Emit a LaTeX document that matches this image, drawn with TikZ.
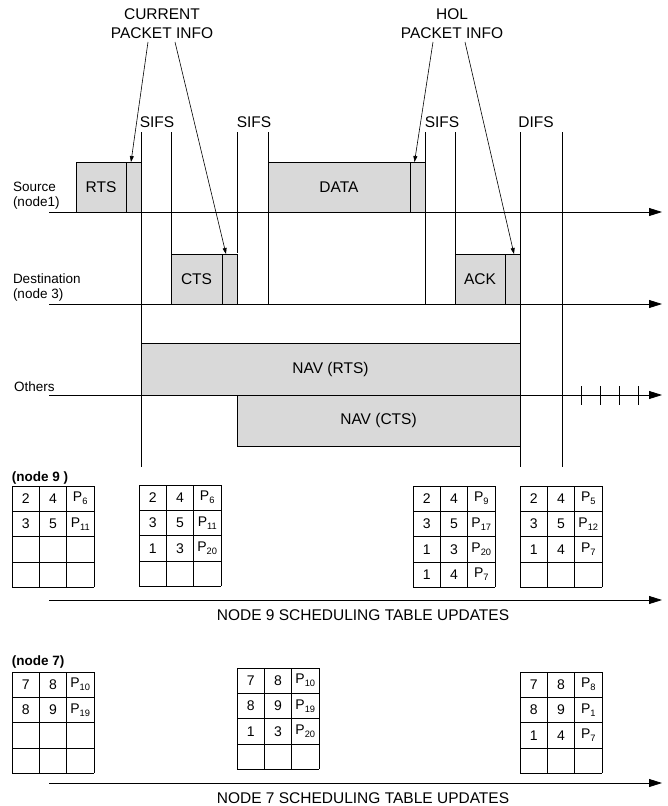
\documentclass[tikz,border=0pt]{standalone}
\usepackage{fontspec}
\setmainfont{Liberation Sans}
\usetikzlibrary{arrows.meta}
\definecolor{boxgray}{RGB}{217,217,217}

\newcommand{\schedtable}[4]{%
	\begin{scope}[shift={(#2,#3)}]
	\foreach \i in {0,...,3} \draw (\i*27.3,0) -- (\i*27.3,101.2);
	\foreach \j in {0,...,4} \draw (0,\j*25.3) -- (81.9,\j*25.3);
	\foreach \a/\b/\p [count=\r] in {#4} {
		\node[cell] (#1-\r-a) at (13.65,\r*25.3-12.65) {\a};
		\node[cell] (#1-\r-b) at (40.95,\r*25.3-12.65) {\b};
		\node[cell] (#1-\r-p) at (68.25,\r*25.3-12.65) {P\raisebox{-3pt}{\fontsize{9.3}{10}\selectfont\p}};
	}
	\end{scope}}

\begin{document}
\begin{tikzpicture}[x=1pt,y=-1pt,line width=0.8pt]
		\tikzstyle{every node}=[font=\fontsize{15.5}{19}\selectfont, inner sep=0pt, outer sep=0pt]
		\tikzstyle{pkt}=[draw, fill=boxgray, anchor=south west, minimum height=50]
		\tikzstyle{lbl}=[font=\fontsize{13.5}{15}\selectfont, align=left, anchor=west]
		\tikzstyle{cell}=[font=\fontsize{14}{15}\selectfont]
		\tikzstyle{axis}=[-{Triangle[length=13pt,width=8pt]}]
		\tikzstyle{pointer}=[-{Triangle[length=6pt,width=4pt]}, line width=0.6pt]
		
		\useasboundingbox (0,0) rectangle (667,806);
		
		\node[pkt, minimum width=50] (rts) at (76,212) {RTS};
		\node[pkt, minimum width=15] (rtsinfo) at (rts.south east) {};
		\node[pkt, minimum width=142] (data) at (268,212) {DATA};
		\node[pkt, minimum width=15] (datainfo) at (data.south east) {};
		\node[pkt, minimum width=51] (cts) at (171,304) {CTS};
		\node[pkt, minimum width=15] (ctsinfo) at (cts.south east) {};
		\node[pkt, minimum width=50] (ack) at (455,304) {ACK};
		\node[pkt, minimum width=15] (ackinfo) at (ack.south east) {};
		\node[pkt, minimum width=379, minimum height=52] (navrts) at (141,395) {NAV (RTS)};
		\node[pkt, anchor=north west, minimum width=283, minimum height=51] (navcts) at (237,395) {NAV (CTS)};
		
		\draw[axis] (49,212) -- (662,212);
		\draw[axis] (49,304) -- (662,304);
		\draw[axis] (49,395) -- (662,395);
		\foreach \t in {581,600,619,638} \draw (\t,386) -- (\t,405);
		
		\draw (141,132) -- (141,467);
		\draw (171,132) -- (171,304);
		\draw (237,132) -- (237,253);
		\draw (268,132) -- (268,304);
		\draw (425,132) -- (425,304);
		\draw (455,132) -- (455,304);
		\draw (520,132) -- (520,467);
		\draw (562,132) -- (562,467);
		
		\node[anchor=base] (sifsa) at (157,127) {SIFS};
		\node[anchor=base] (sifsb) at (254,127) {SIFS};
		\node[anchor=base] (sifsc) at (442,127) {SIFS};
		\node[anchor=base] (difs) at (536,127) {DIFS};
		
		\node[lbl] (src) at (13,196) {Source\\(node1)};
		\node[lbl] (dst) at (13,288) {Destination\\(node 3)};
		\node[lbl, anchor=base west] (others) at (14,391) {Others};
		
		\node[align=center, anchor=north] (curinfo) at (162,9) {CURRENT\\PACKET INFO};
		\node[align=center, anchor=north] (holinfo) at (452,9) {HOL\\PACKET INFO};
		\draw[pointer] ([xshift=-14pt,yshift=-3pt]curinfo.south) -- ([xshift=-2.5pt]rtsinfo.north);
		\draw[pointer] ([xshift=13pt,yshift=-3pt]curinfo.south) -- ([xshift=-3.5pt]ctsinfo.north);
		\draw[pointer] ([xshift=-19pt,yshift=-3pt]holinfo.south) -- ([xshift=-3pt]datainfo.north);
		\draw[pointer] ([xshift=13pt,yshift=-3pt]holinfo.south) -- ([xshift=1.5pt]ackinfo.north);
		
		\node[anchor=base west, font=\bfseries\fontsize{13.5}{15}\selectfont] (nine) at (12,481) {(node 9 )};
		\schedtable{ta}{12}{486}{2/4/6, 3/5/11}
		\schedtable{tb}{139}{485}{2/4/6, 3/5/11, 1/3/20}
		\schedtable{tc}{413}{486}{2/4/9, 3/5/17, 1/3/20, 1/4/7}
		\schedtable{td}{520}{486}{2/4/5, 3/5/12, 1/4/7}
		\draw[axis] (49,600) -- (662,600);
		\node[anchor=base] (upd9) at (363,620) {NODE 9 SCHEDULING TABLE UPDATES};
		
		\node[anchor=base west, font=\bfseries\fontsize{13.5}{15}\selectfont] (seven) at (12,665) {(node 7)};
		\schedtable{te}{12}{672}{7/8/10, 8/9/19}
		\schedtable{tf}{237}{668}{7/8/10, 8/9/19, 1/3/20}
		\schedtable{tg}{520}{672}{7/8/8, 8/9/1, 1/4/7}
		\draw[axis] (49,783) -- (662,783);
		\node[anchor=base] (upd7) at (363,803) {NODE 7 SCHEDULING TABLE UPDATES};
		
\end{tikzpicture}
\end{document}
